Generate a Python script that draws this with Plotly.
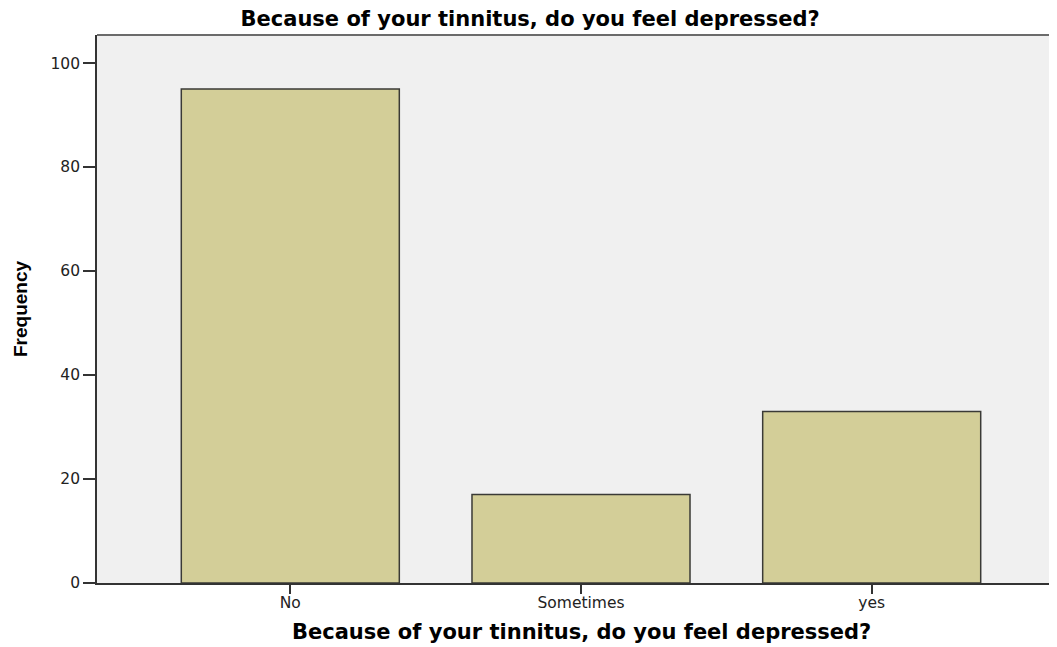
import plotly.graph_objects as go

categories = ["No", "Sometimes", "yes"]
frequency = [95, 17, 33]
y_ticks = [0, 20, 40, 60, 80, 100]
title_text = "Because of your tinnitus, do you feel depressed?"
y_title = "Frequency"

wide_font = "DejaVu Sans, Verdana, sans-serif"

fig = go.Figure()
fig.add_trace(go.Bar(
    x=categories, y=frequency, width=0.75,
    marker=dict(color="#d3ce98", line=dict(color="#3a3a36", width=1.5)),
))

fig.update_layout(
    width=1057, height=647,
    margin=dict(l=89, r=0, t=27, b=72),
    paper_bgcolor="white", plot_bgcolor="#f0f0f0",
    showlegend=False,
    font=dict(family=wide_font, color="#111"),
    title=dict(text="<b>" + title_text + "</b>", x=0.494, xanchor="center", xref="container",
               y=1 - 11 / 647, yanchor="middle", yref="container",
               font=dict(size=21, family=wide_font, color="black")),
)
fig.update_xaxes(
    type="category", range=[-0.665, 2.665],
    showline=True, linecolor="#333", linewidth=1.8,
    ticks="outside", ticklen=9, tickcolor="#333", tickwidth=1.5,
    tickfont=dict(size=15.5, color="#222"),
    ticklabelstandoff=-5,
    showgrid=False,
)
fig.update_yaxes(
    range=[0, 105.4], tickvals=y_ticks,
    showline=True, linecolor="#333", linewidth=1.8,
    ticks="outside", ticklen=12, tickcolor="#333", tickwidth=1.5,
    tickfont=dict(size=15.5, color="#222"),
    showgrid=False, zeroline=False,
)
# x-axis title
fig.add_annotation(text="<b>" + title_text + "</b>", xref="paper", yref="paper",
                   x=0.5, y=0, xanchor="center", yanchor="middle", yshift=-49,
                   showarrow=False, font=dict(size=21, family=wide_font, color="black"))
# y-axis title
fig.add_annotation(text="<b>" + y_title + "</b>", xref="paper", yref="paper",
                   x=0, y=0.5, xanchor="center", yanchor="middle", xshift=-77,
                   textangle=-90, showarrow=False,
                   font=dict(size=19, family="Liberation Sans, Arial, sans-serif", color="black"))
# top border of plot area
fig.add_shape(type="line", xref="paper", yref="paper", x0=0, x1=1, y0=1, y1=1,
              line=dict(color="#6b6b6b", width=2))

fig.write_html("out.html")
